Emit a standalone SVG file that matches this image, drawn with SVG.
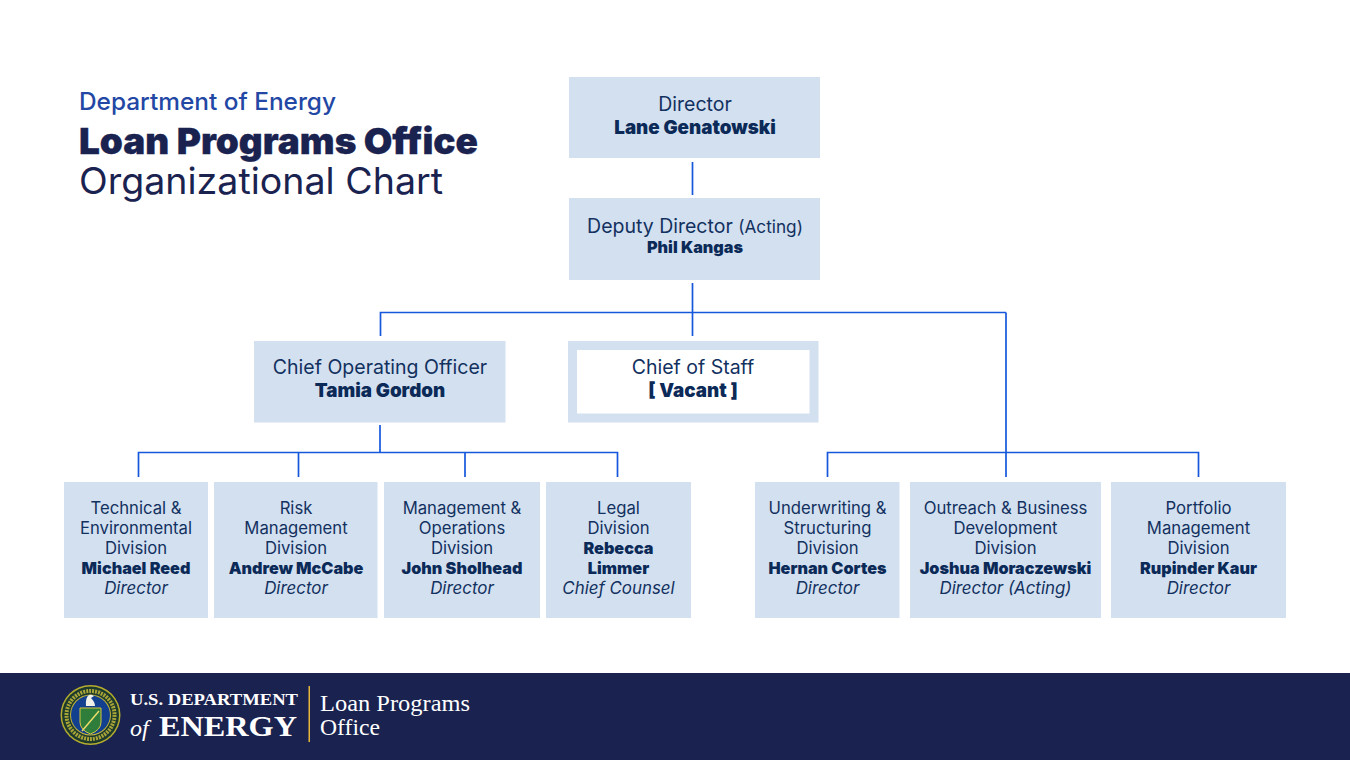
<svg xmlns="http://www.w3.org/2000/svg" width="1350" height="760" viewBox="0 0 1350 760">
<style>
text{font-family:"Inter","Noto Sans","Liberation Sans",sans-serif;text-anchor:middle;fill:#12315f}
.box{fill:#d3e0f0}
.t{font-size:16.700px}
.b{font-size:16.200px;font-weight:900;fill:#0b2a58}
.i{font-size:16.900px;font-style:italic}
.m{font-size:19.500px}
.mb{font-size:18.800px;font-weight:900;fill:#0b2a58}
.db{font-size:16.200px;font-weight:900;fill:#0b2a58}
.c{fill:none;stroke:#1558dc;stroke-width:1.7}
.h{text-anchor:start}
.f{font-family:"Liberation Serif",serif;fill:#fff;text-anchor:start}
</style>
<rect width="1350" height="760" fill="#fff"/>
<g id="title">
<text class="h" x="79" y="109.500" font-size="24" font-weight="500" style="fill:#2347a5" textLength="257" lengthAdjust="spacingAndGlyphs">Department of Energy</text>
<text class="h" x="79" y="154" font-size="36" font-weight="900" style="fill:#1a2250;stroke:#1a2250;stroke-width:.3" textLength="399" lengthAdjust="spacingAndGlyphs">Loan Programs Office</text>
<text class="h" x="79" y="194" font-size="36.500" style="fill:#1a2250" textLength="364" lengthAdjust="spacingAndGlyphs">Organizational Chart</text>
</g>
<g id="connectors" class="c">
<path d="M692.500 162V195"/>
<path d="M692.500 283V336M380.500 336V312.500H1006M1006 312.500V477"/>
<path d="M380 425V452.500M138.500 477V452.500H617.500V477M298.500 452.500V477M465 452.500V477"/>
<path d="M827.500 477V452.500H1198.500V477"/>
</g>
<g id="director"><rect class="box" x="569" y="77" width="251" height="81"/>
<text class="m" x="695" y="110.500">Director</text><text class="mb" x="695" y="134">Lane Genatowski</text></g>
<g id="deputy"><rect class="box" x="569" y="198" width="251" height="82"/>
<text class="m" x="695" y="232.500">Deputy Director <tspan font-size="17.200">(Acting)</tspan></text><text class="db" x="695" y="252.500">Phil Kangas</text></g>
<g id="coo"><rect class="box" x="254" y="341" width="251.500" height="81.500"/>
<text class="m" x="380" y="373.500">Chief Operating Officer</text><text class="mb" x="380" y="397">Tamia Gordon</text></g>
<g id="cos"><rect x="572.500" y="345.500" width="241.500" height="72.500" fill="#fff" stroke="#d3e0f0" stroke-width="9"/>
<text class="m" x="693" y="373.500">Chief of Staff</text><text class="mb" x="693" y="397">[ Vacant ]</text></g>
<g id="tech"><rect class="box" x="64" y="482" width="144" height="136"/>
<text class="t" x="136" y="514">Technical &amp;</text><text class="t" x="136" y="534">Environmental</text><text class="t" x="136" y="554">Division</text><text class="b" x="136" y="573.500">Michael Reed</text><text class="i" x="136" y="594">Director</text></g>
<g id="risk"><rect class="box" x="214" y="482" width="163.500" height="136"/>
<text class="t" x="296" y="514">Risk</text><text class="t" x="296" y="534">Management</text><text class="t" x="296" y="554">Division</text><text class="b" x="296" y="573.500">Andrew McCabe</text><text class="i" x="296" y="594">Director</text></g>
<g id="mgmt"><rect class="box" x="384" y="482" width="156" height="136"/>
<text class="t" x="462" y="514">Management &amp;</text><text class="t" x="462" y="534">Operations</text><text class="t" x="462" y="554">Division</text><text class="b" x="462" y="573.500">John Sholhead</text><text class="i" x="462" y="594">Director</text></g>
<g id="legal"><rect class="box" x="546" y="482" width="145" height="136"/>
<text class="t" x="618.500" y="514">Legal</text><text class="t" x="618.500" y="534">Division</text><text class="b" x="618.500" y="553.500">Rebecca</text><text class="b" x="618.500" y="573.500">Limmer</text><text class="i" x="618.500" y="594">Chief Counsel</text></g>
<g id="uw"><rect class="box" x="755" y="482" width="144.500" height="136"/>
<text class="t" x="827.500" y="514">Underwriting &amp;</text><text class="t" x="827.500" y="534">Structuring</text><text class="t" x="827.500" y="554">Division</text><text class="b" x="827.500" y="573.500">Hernan Cortes</text><text class="i" x="827.500" y="594">Director</text></g>
<g id="outreach"><rect class="box" x="910" y="482" width="191" height="136"/>
<text class="t" x="1005.500" y="514">Outreach &amp; Business</text><text class="t" x="1005.500" y="534">Development</text><text class="t" x="1005.500" y="554">Division</text><text class="b" x="1005.500" y="573.500">Joshua Moraczewski</text><text class="i" x="1005.500" y="594">Director (Acting)</text></g>
<g id="portfolio"><rect class="box" x="1111" y="482" width="175" height="136"/>
<text class="t" x="1198.500" y="514">Portfolio</text><text class="t" x="1198.500" y="534">Management</text><text class="t" x="1198.500" y="554">Division</text><text class="b" x="1198.500" y="573.500">Rupinder Kaur</text><text class="i" x="1198.500" y="594">Director</text></g>
<g id="footer">
<rect y="673" width="1350" height="87" fill="#1a224f"/>
<circle cx="90.500" cy="715" r="30" fill="#b5ad2e"/>
<circle cx="90.500" cy="715" r="28.500" fill="#1d3a2c"/>
<circle cx="90.500" cy="715" r="24" fill="none" stroke="#a8a437" stroke-width="4" stroke-dasharray="2 1"/>
<circle cx="90.500" cy="715" r="20.500" fill="#c4b53a"/>
<circle cx="90.500" cy="715" r="19.500" fill="#12408f"/>
<path d="M80 708H101V722Q101 730 90.500 734Q80 730 80 722Z" fill="#2f7d3a" stroke="#d8c53c"/>
<path d="M82 731L99 711" stroke="#e9dc6a" stroke-width="1.500"/>
<path d="M86 706Q85 698 89 695Q91 694 94 696L91 698Q95 702 95 706Z" fill="#f0f0e8"/>
<text class="f" x="130" y="705" font-size="16.500" font-weight="700" textLength="168" lengthAdjust="spacingAndGlyphs">U.S. DEPARTMENT</text>
<text class="f" x="130" y="736" font-size="24" font-style="italic">of</text>
<text class="f" x="159" y="736" font-size="28.500" font-weight="700" textLength="138" lengthAdjust="spacingAndGlyphs">ENERGY</text>
<rect x="308.500" y="686" width="1.500" height="56" fill="#e6b53a"/>
<text class="f" x="320" y="711" font-size="23" textLength="150" lengthAdjust="spacingAndGlyphs">Loan Programs</text>
<text class="f" x="320" y="735" font-size="23" textLength="60" lengthAdjust="spacingAndGlyphs">Office</text>
</g>
</svg>
